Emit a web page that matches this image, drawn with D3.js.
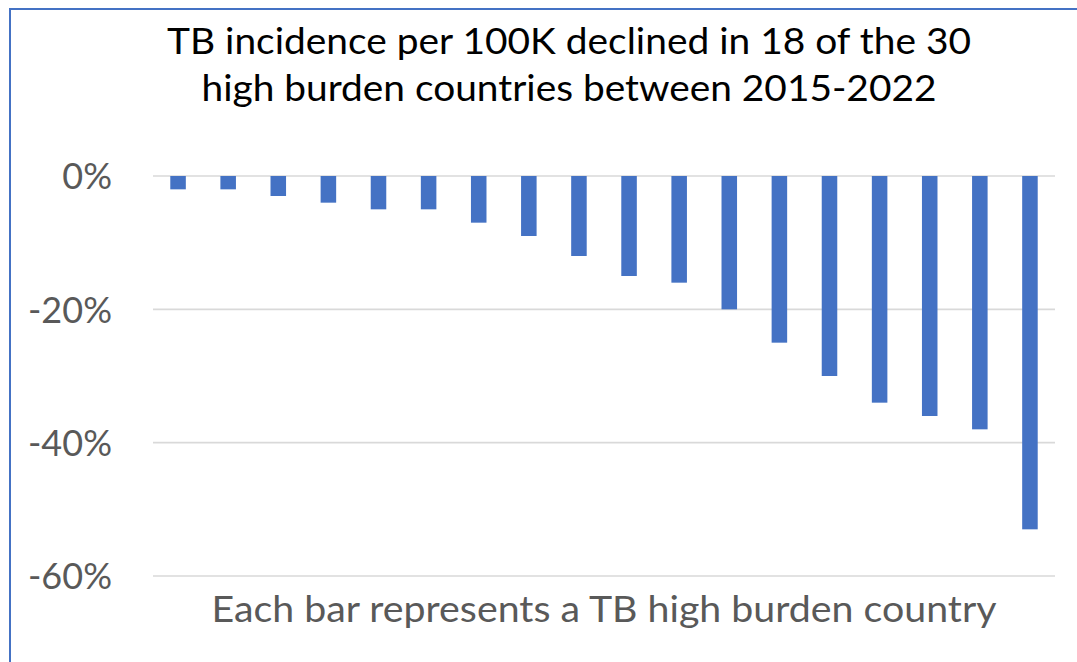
<!DOCTYPE html>
<html>
<head>
<meta charset="utf-8">
<script src="https://cdn.jsdelivr.net/npm/d3@7"></script>
<style>
  html, body { margin: 0; padding: 0; background: #fff; }
  svg { display: block; font-family: Lato, "Open Sans", sans-serif; }
</style>
</head>
<body>
<div id="chart"></div>
<script>
// one bar per high burden country, sorted by change in incidence (2015-2022)
const countries = d3.range(1, 19).map(i => "Country " + i)
const changes = [-2, -2, -3, -4, -5, -5, -7, -9, -12, -15, -16, -20, -25, -30, -34, -36, -38, -53]
const yTicks = [0, -20, -40, -60]
const titleLines = ["TB incidence per 100K declined in 18 of the 30", "high burden countries between 2015-2022"]
const axisTitle = "Each bar represents a TB high burden country"

const width = 1077
const height = 662
const margin = { top: 176, right: 22, bottom: 86, left: 153 }

const svg = d3.select("#chart").append("svg")
    .attr("width", width)
    .attr("height", height)

// chart area border (clipped at right / bottom like the source)
svg.append("rect")
    .attr("x", 10)
    .attr("y", 9)
    .attr("width", width + 20)
    .attr("height", height + 20)
    .attr("fill", "#fff")
    .attr("stroke", "#4472c4")
    .attr("stroke-width", 2)

const x = d3.scaleBand()
    .domain(countries)
    .range([margin.left, width - margin.right])
    .paddingInner(0.69)
    .paddingOuter(0.345)

const y = d3.scaleLinear()
    .domain([-60, 0])
    .range([height - margin.bottom, margin.top])

// gridlines
svg.append("g")
    .selectAll("line")
    .data(yTicks)
    .enter().append("line")
    .attr("x1", margin.left)
    .attr("x2", width - margin.right)
    .attr("y1", d => y(d))
    .attr("y2", d => y(d))
    .attr("stroke", "#d9d9d9")
    .attr("stroke-width", 1.6)

// y axis labels
const yAxis = d3.axisLeft(y)
    .tickValues(yTicks)
    .tickFormat(d => d + "%")
    .tickSize(0)
    .tickPadding(0)

svg.append("g")
    .attr("transform", "translate(112,0)")
    .call(yAxis)
    .call(g => g.select(".domain").remove())
    .call(g => g.selectAll("text")
        .attr("fill", "#595959")
        .attr("font-family", "Lato, sans-serif")
        .attr("font-size", 36)
        .attr("dy", "0.36em"))

// bars
svg.append("g")
    .selectAll("rect")
    .data(changes)
    .enter().append("rect")
    .attr("x", (d, i) => x(countries[i]))
    .attr("y", y(0))
    .attr("width", x.bandwidth())
    .attr("height", d => y(d) - y(0))
    .attr("fill", "#4472c4")

// title
svg.append("g")
    .selectAll("text")
    .data(titleLines)
    .enter().append("text")
    .attr("x", 569)
    .attr("y", (d, i) => 54 + i * 47)
    .attr("text-anchor", "middle")
    .attr("font-size", 36)
    .attr("fill", "#000")
    .attr("textLength", (d, i) => i === 0 ? 804 : 735)
    .attr("lengthAdjust", "spacingAndGlyphs")
    .text(d => d)

// category axis title
svg.append("text")
    .attr("x", (margin.left + width - margin.right) / 2)
    .attr("y", 622)
    .attr("text-anchor", "middle")
    .attr("font-size", 36)
    .attr("fill", "#595959")
    .attr("textLength", 785)
    .attr("lengthAdjust", "spacingAndGlyphs")
    .text(axisTitle)
</script>
</body>
</html>
